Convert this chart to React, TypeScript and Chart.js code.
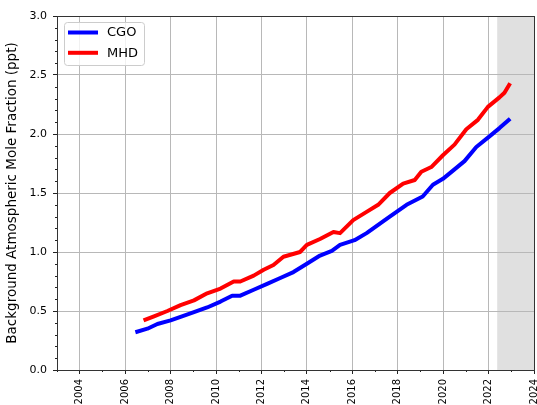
import React, { useEffect, useRef } from "react";
import { Chart, registerables } from "chart.js";

Chart.register(...registerables);

const cgoYears = [2006.45, 2006.98, 2007.42, 2008.0, 2008.44, 2009.03, 2009.61, 2010.2, 2010.71, 2011.07, 2011.66, 2012.25, 2012.83, 2013.41, 2014.0, 2014.58, 2015.1, 2015.46, 2016.1, 2016.63, 2017.14, 2017.65, 2018.39, 2019.1, 2019.55, 2019.99, 2020.5, 2020.94, 2021.46, 2022.04, 2022.48, 2022.95];
const cgoValues = [0.32, 0.35, 0.39, 0.42, 0.45, 0.49, 0.53, 0.58, 0.63, 0.63, 0.68, 0.73, 0.78, 0.83, 0.9, 0.97, 1.01, 1.06, 1.1, 1.16, 1.23, 1.3, 1.4, 1.47, 1.57, 1.62, 1.7, 1.77, 1.89, 1.98, 2.05, 2.13];

const mhdYears = [2006.81, 2007.27, 2007.86, 2008.44, 2009.03, 2009.61, 2010.2, 2010.78, 2011.07, 2011.66, 2012.1, 2012.53, 2012.97, 2013.7, 2014.0, 2014.58, 2015.17, 2015.46, 2016.04, 2016.63, 2017.14, 2017.65, 2018.24, 2018.75, 2019.04, 2019.48, 2019.99, 2020.5, 2021.02, 2021.53, 2021.97, 2022.48, 2022.7, 2022.95];
const mhdValues = [0.42, 0.455, 0.5, 0.55, 0.59, 0.65, 0.69, 0.75, 0.75, 0.8, 0.85, 0.89, 0.96, 1.0, 1.06, 1.11, 1.17, 1.16, 1.27, 1.34, 1.4, 1.5, 1.58, 1.61, 1.68, 1.72, 1.82, 1.91, 2.04, 2.12, 2.23, 2.31, 2.35, 2.43];

const seriesNames = ["CGO", "MHD"];
const seriesColors = ["#0000ff", "#ff0000"];
const xTickYears = [2004, 2006, 2008, 2010, 2012, 2014, 2016, 2018, 2020, 2022, 2024];
const xMinorYears = [2003, 2005, 2007, 2009, 2011, 2013, 2015, 2017, 2019, 2021, 2023];
const yTickValues = [0, 0.5, 1, 1.5, 2, 2.5, 3];
const xRange = [2003, 2024];
const yRange = [0, 3];
const shadeRange = [2022.38, 2024];
const yTitle = "Background Atmospheric Mole Fraction (ppt)";

const FONT = "'DejaVu Sans', sans-serif";

const decorPlugin = {
  id: "decor",
  beforeDraw(chart: any) {
    const { ctx, chartArea, scales } = chart;
    const x0 = scales.x.getPixelForValue(shadeRange[0]);
    const x1 = scales.x.getPixelForValue(shadeRange[1]);
    ctx.save();
    ctx.fillStyle = "#e0e0e0";
    ctx.fillRect(x0, chartArea.top, x1 - x0, chartArea.bottom - chartArea.top);
    ctx.restore();
  },
  afterDraw(chart: any) {
    const { ctx, chartArea, scales } = chart;
    const { left, right, top, bottom } = chartArea;
    ctx.save();
    // minor ticks
    ctx.strokeStyle = "#222";
    ctx.lineWidth = 1;
    ctx.beginPath();
    for (let i = 1; i < 30; i++) {
      if (i % 5 === 0) continue;
      const y = Math.round(scales.y.getPixelForValue(i / 10)) + 0.5;
      ctx.moveTo(left - 2, y);
      ctx.lineTo(left, y);
    }
    xMinorYears.forEach((yr) => {
      const x = Math.round(scales.x.getPixelForValue(yr)) + 0.5;
      ctx.moveTo(x, bottom);
      ctx.lineTo(x, bottom + 2);
    });
    ctx.stroke();
    // spines
    ctx.strokeStyle = "#333";
    ctx.lineWidth = 1;
    ctx.strokeRect(Math.round(left) + 0.5, Math.round(top) + 0.5, Math.round(right - left), Math.round(bottom - top));
    // legend
    const lx = 64.5, ly = 22.5, lw = 80, lh = 43, r = 3;
    ctx.beginPath();
    ctx.moveTo(lx + r, ly);
    ctx.lineTo(lx + lw - r, ly);
    ctx.quadraticCurveTo(lx + lw, ly, lx + lw, ly + r);
    ctx.lineTo(lx + lw, ly + lh - r);
    ctx.quadraticCurveTo(lx + lw, ly + lh, lx + lw - r, ly + lh);
    ctx.lineTo(lx + r, ly + lh);
    ctx.quadraticCurveTo(lx, ly + lh, lx, ly + lh - r);
    ctx.lineTo(lx, ly + r);
    ctx.quadraticCurveTo(lx, ly, lx + r, ly);
    ctx.closePath();
    ctx.fillStyle = "rgba(255,255,255,0.8)";
    ctx.fill();
    ctx.strokeStyle = "#cccccc";
    ctx.stroke();
    ctx.font = `13px ${FONT}`;
    ctx.textBaseline = "middle";
    ctx.textAlign = "left";
    seriesNames.forEach((name, i) => {
      const yy = 32.5 + i * 20.3;
      ctx.strokeStyle = seriesColors[i];
      ctx.lineWidth = 4;
      ctx.beginPath();
      ctx.moveTo(68, yy);
      ctx.lineTo(98, yy);
      ctx.stroke();
      ctx.fillStyle = "#000";
      ctx.fillText(name, 107, yy + 0.5);
    });
    ctx.restore();
  },
};

export default function App() {
  const ref = useRef<HTMLCanvasElement | null>(null);
  useEffect(() => {
    document.body.style.margin = "0";
    const canvas = ref.current!;
    const chart = new Chart(canvas, {
      type: "line",
      data: {
        datasets: [
          {
            label: seriesNames[0],
            data: cgoYears.map((x, i) => ({ x, y: cgoValues[i] })),
            borderColor: seriesColors[0],
            borderWidth: 4,
            pointRadius: 0,
            tension: 0,
            fill: false,
            borderJoinStyle: "round",
          },
          {
            label: seriesNames[1],
            data: mhdYears.map((x, i) => ({ x, y: mhdValues[i] })),
            borderColor: seriesColors[1],
            borderWidth: 4,
            pointRadius: 0,
            tension: 0,
            fill: false,
            borderJoinStyle: "round",
          },
        ],
      },
      options: {
        responsive: false,
        animation: false,
        events: [],
        layout: { padding: { top: 16, right: 3, left: 0, bottom: 0 } },
        plugins: { legend: { display: false }, tooltip: { enabled: false } },
        scales: {
          x: {
            type: "linear",
            min: xRange[0],
            max: xRange[1],
            afterBuildTicks: (scale: any) => {
              scale.ticks = xTickYears.map((v) => ({ value: v }));
            },
            afterFit: (scale: any) => {
              scale.height = 35;
              scale.paddingLeft = 0;
              scale.paddingRight = 0;
            },
            ticks: {
              minRotation: 90,
              maxRotation: 90,
              autoSkip: false,
              padding: 5,
              color: "#000",
              font: { family: FONT, size: 10 },
              callback: (v: any) => String(v),
            },
            grid: { color: "#b8b8b8", lineWidth: 1, drawTicks: true, tickLength: 4, tickColor: "#222" },
            border: { display: false },
          },
          y: {
            type: "linear",
            min: yRange[0],
            max: yRange[1],
            afterBuildTicks: (scale: any) => {
              scale.ticks = yTickValues.map((v) => ({ value: v }));
            },
            afterFit: (scale: any) => {
              scale.width = 57;
            },
            ticks: {
              padding: 6,
              color: "#000",
              font: { family: FONT, size: 11 },
              callback: (v: any) => Number(v).toFixed(1),
            },
            title: {
              display: true,
              text: yTitle,
              color: "#000",
              font: { family: FONT, size: 13.5 },
              padding: { top: 4, bottom: 0 },
            },
            grid: { color: "#b8b8b8", lineWidth: 1, drawTicks: true, tickLength: 4, tickColor: "#222" },
            border: { display: false },
          },
        },
      },
      plugins: [decorPlugin],
    });
    return () => chart.destroy();
  }, []);
  return <canvas ref={ref} width={537} height={405} style={{ display: "block" }} />;
}
